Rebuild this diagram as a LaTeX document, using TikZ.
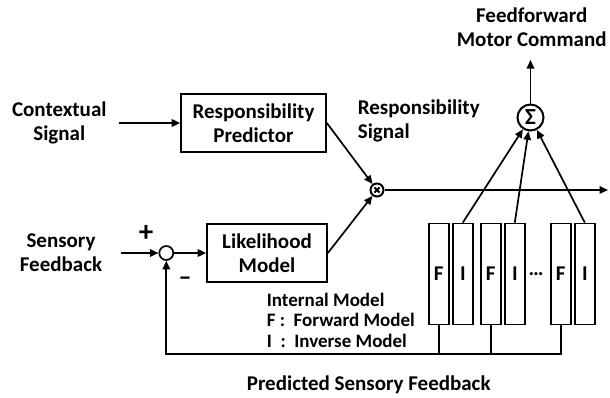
\documentclass[tikz,border=0pt]{standalone}
\usepackage{fontspec}
\setmainfont{Carlito}
\usetikzlibrary{positioning, arrows.meta, calc}

\tikzset{
  block/.style={draw, align=center, inner sep=0pt, minimum height=58pt},
  imbox/.style={draw, inner sep=0pt, minimum width=20pt, minimum height=101pt},
  junction/.style={draw, circle, inner sep=0pt, minimum size=#1},
  txt/.style={align=center, inner sep=0pt},
}

\begin{document}
\begin{tikzpicture}[x=1pt, y=-1pt, >={Triangle[length=8.5pt,width=7.5pt]}, line width=1.7pt,
  font=\fontsize{21}{24}\selectfont\bfseries, on grid]
  \useasboundingbox (0,0) rectangle (610,397);

  % upper branch
  \node[txt, inner xsep=12pt] (ctx) at (59.3,123) {Contextual\\Signal};
  \node[block, minimum width=145pt] (rp) at (253.5,123) {Responsibility\\Predictor};
  \node[txt, anchor=west, align=left] (rs) at (357,121) {Responsibility\\Signal};
  \node[junction=13pt, line width=2pt] (mx) at (377,190) {};
  \draw[line width=2pt] ($(mx)+(45:3.6)$) -- ($(mx)+(225:3.6)$);
  \draw[line width=2pt] ($(mx)+(135:3.6)$) -- ($(mx)+(315:3.6)$);

  % summation and output
  \node[junction=26pt, line width=2pt, font=\fontsize{23}{23}\selectfont\bfseries] (sg) at (530.5,117.5) {Σ};
  \node[txt] (ffmc) at (531.7,27) {Feedforward\\Motor Command};
  \coordinate (ffout) at (530.5,60);
  \coordinate (out) at (608,190);

  % lower branch
  \node[txt, inner xsep=18pt] (sfb) at (61,253) {Sensory\\Feedback};
  \node[junction=14pt] (sm) at (166.3,253) {};
  \node[font=\fontsize{29}{29}\selectfont\bfseries] (plus) at (146,233) {+};
  \node[font=\fontsize{26}{26}\selectfont\bfseries] (minus) at (185,281) {–};
  \node[block, minimum width=120pt] (lm) at (267,253) {Likelihood\\Model};
  \node[txt, anchor=west, align=left, font=\fontsize{19}{20.5}\selectfont\bfseries] (key) at (266,320)
    {Internal Model\\F :\ \ Forward Model\\I \ :\ \ Inverse Model};

  % internal models
  \node[imbox] (f1) at (438.8,274) {F};
  \node[imbox, right=24pt of f1] (i1) {I};
  \node[imbox, right=52pt of f1] (f2) {F};
  \node[imbox, right=24pt of f2] (i2) {I};
  \node[imbox, right=70pt of f2] (f3) {F};
  \node[imbox, right=24pt of f3] (i3) {I};
  \node (dots) at (536,274) {…};
  \coordinate (fbl) at (166.3,354);
  \node[txt, anchor=west] (psf) at (246,385) {Predicted Sensory Feedback};

  \draw[->] (ctx) -- (rp);
  \draw[->] (rp.east) -- (mx);
  \draw[->] (lm.east) -- (mx);
  \draw[->] (mx) -- (out);
  \draw[->] (sg) -- (ffout);
  \draw[->] (i1.north) -- (sg);
  \draw[->] (i2.north) -- (sg);
  \draw[->] (i3.north) -- (sg);
  \draw[->] (sfb) -- (sm);
  \draw[->] (sm) -- (lm);
  \draw[->] (f3.south) |- (fbl) -- (sm);
  \draw (f1.south) -- (f1.south |- fbl);
  \draw (f2.south) -- (f2.south |- fbl);
\end{tikzpicture}
\end{document}
